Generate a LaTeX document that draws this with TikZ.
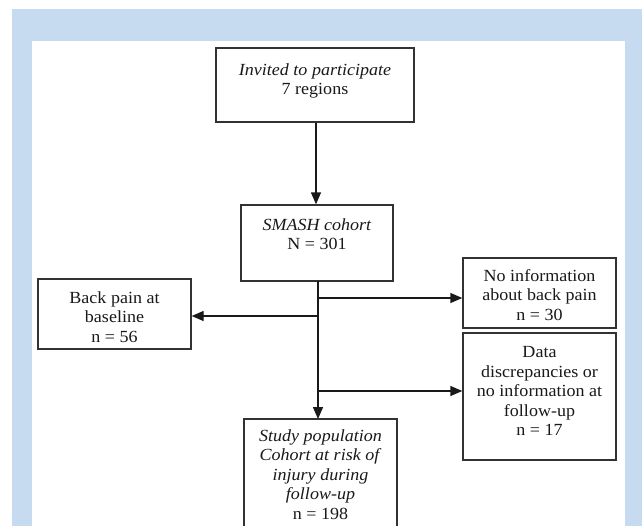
\documentclass[tikz,border=0pt]{standalone}
\usepackage{fontspec}
\setmainfont[FakeStretch=1.06]{Liberation Serif}
\usetikzlibrary{arrows.meta}
\definecolor{panelblue}{RGB}{198,219,240}
\definecolor{boxline}{RGB}{50,50,50}
\tikzset{
  box/.style={draw=boxline, line width=1.4pt, fill=white, inner sep=0pt},
  txt/.style={align=center, inner sep=0pt, text=black!90, font=\fontsize{17}{19.5}\selectfont},
  arr/.style={line width=1.4pt, draw=black!90, -{Triangle[length=12pt,width=10pt]}},
}
\begin{document}
\begin{tikzpicture}[x=1pt,y=-1pt]
\useasboundingbox (0,0) rectangle (642,525);
\clip (0,0) rectangle (642,525);
\fill[panelblue] (12,9) rectangle (642,530);
\fill[white] (32,41) rectangle (625,530);
% boxes
\node[box, minimum width=198pt, minimum height=74pt] (inv) at (315,85) {};
\node[txt] (invT) at (315,81) {\textit{Invited to participate}\\7 regions};
\node[box, minimum width=152pt, minimum height=76pt] (smash) at (317,243) {};
\node[txt] (smashT) at (317,234) {\textit{SMASH cohort}\\N = 301};
\node[box, minimum width=153pt, minimum height=70pt] (back) at (114.5,314) {};
\node[txt] (backT) at (114.5,317) {Back pain at\\baseline\\n = 56};
\node[box, minimum width=153pt, minimum height=70pt] (noinfo) at (539.5,293) {};
\node[txt] (noinfoT) at (539.5,295) {No information\\about back pain\\n = 30};
\node[box, minimum width=153pt, minimum height=127pt] (data) at (539.5,396.5) {};
\node[txt] (dataT) at (539.5,391) {Data\\discrepancies or\\no information at\\follow-up\\n = 17};
\node[box, minimum width=153pt, minimum height=120pt] (study) at (320.5,479) {};
\node[txt] (studyT) at (320.5,474.5) {\textit{Study population}\\\textit{Cohort at risk of}\\\textit{injury during}\\\textit{follow-up}\\n = 198};
% trunk coordinates
\coordinate (t0) at (318,281);
\coordinate (tR1) at (318,298);
\coordinate (tL) at (318,316);
\coordinate (tR2) at (318,391);
\coordinate (t1) at (318,419);
% connectors
\draw[arr] (inv.south -| 316,0) -- (smash.north -| 316,0);
\draw[arr] (t0) -- (t1);
\draw[arr] (tR1) -- (tR1 -| noinfo.west);
\draw[arr] (tL) -- (tL -| back.east);
\draw[arr] (tR2) -- (tR2 -| data.west);
\end{tikzpicture}
\end{document}
